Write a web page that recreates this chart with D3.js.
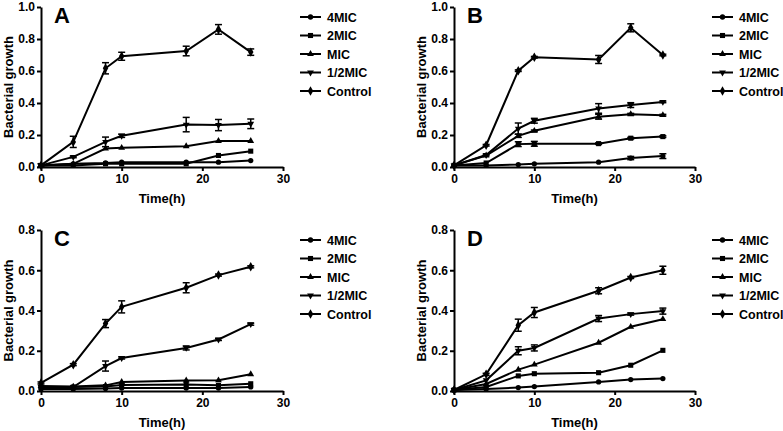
<!DOCTYPE html>
<html><head><meta charset="utf-8">
<script src="https://cdn.jsdelivr.net/npm/d3@7/dist/d3.min.js"></script>
<style>body{margin:0;background:#fff}svg{display:block}text{font-family:"Liberation Sans",Arial,sans-serif;fill:#000}</style>
</head><body>
<svg id="c" width="783" height="431"></svg>
<script>
const time = [0, 4, 8, 10, 18, 22, 26];
const seriesNames = ["4MIC", "2MIC", "MIC", "1/2MIC", "Control"];
const panelLabels = ["A", "B", "C", "D"];
const xTicks = [0, 10, 20, 30];
const yTicksTop = [0, 0.2, 0.4, 0.6, 0.8, 1.0];
const yTicksBottom = [0, 0.2, 0.4, 0.6, 0.8];

// Panel A
const A_4MIC    = [0.01, 0.02, 0.025, 0.03, 0.03, 0.03, 0.04];
const A_2MIC    = [0.01, 0.01, 0.02, 0.02, 0.02, 0.072, 0.099];
const A_MIC     = [0.01, 0.02, 0.115, 0.12, 0.13, 0.163, 0.163];
const A_halfMIC = [0.01, 0.063, 0.157, 0.195, 0.265, 0.262, 0.27];
const A_Control = [0.01, 0.157, 0.617, 0.692, 0.725, 0.86, 0.718];
const A_err_halfMIC = [0, 0.005, 0.03, 0.01, 0.045, 0.035, 0.03];
const A_err_Control = [0.01, 0.035, 0.035, 0.025, 0.03, 0.03, 0.02];

// Panel B
const B_4MIC    = [0.01, 0.01, 0.015, 0.02, 0.03, 0.056, 0.068];
const B_2MIC    = [0.01, 0.025, 0.143, 0.145, 0.146, 0.18, 0.19];
const B_MIC     = [0.01, 0.072, 0.195, 0.226, 0.314, 0.33, 0.324];
const B_halfMIC = [0.01, 0.075, 0.24, 0.289, 0.366, 0.387, 0.407];
const B_Control = [0.01, 0.136, 0.602, 0.686, 0.672, 0.87, 0.70];
const B_err_4MIC    = [0, 0, 0, 0, 0, 0.01, 0.015];
const B_err_2MIC    = [0, 0, 0.015, 0.015, 0.005, 0.005, 0.005];
const B_err_MIC     = [0, 0, 0.01, 0.005, 0.015, 0.005, 0.005];
const B_err_halfMIC = [0, 0.005, 0.035, 0.015, 0.03, 0.015, 0.005];
const B_err_Control = [0, 0.005, 0.005, 0.005, 0.025, 0.025, 0.005];

// Panel C
const C_4MIC    = [0.01, 0.01, 0.012, 0.015, 0.015, 0.015, 0.02];
const C_2MIC    = [0.02, 0.02, 0.022, 0.03, 0.032, 0.028, 0.036];
const C_MIC     = [0.025, 0.022, 0.028, 0.045, 0.052, 0.053, 0.083];
const C_halfMIC = [0.02, 0.02, 0.124, 0.164, 0.214, 0.256, 0.332];
const C_Control = [0.04, 0.131, 0.335, 0.418, 0.513, 0.576, 0.617];
const C_err_halfMIC = [0, 0, 0.025, 0.005, 0.01, 0.005, 0.005];
const C_err_Control = [0.005, 0.005, 0.02, 0.03, 0.025, 0.005, 0.005];

// Panel D
const D_4MIC    = [0.005, 0.01, 0.017, 0.022, 0.045, 0.057, 0.062];
const D_2MIC    = [0.005, 0.02, 0.075, 0.086, 0.091, 0.128, 0.202];
const D_MIC     = [0.005, 0.035, 0.106, 0.131, 0.24, 0.319, 0.357];
const D_halfMIC = [0.005, 0.053, 0.2, 0.214, 0.36, 0.382, 0.397];
const D_Control = [0.005, 0.083, 0.327, 0.39, 0.498, 0.564, 0.60];
const D_err_MIC     = [0, 0, 0, 0, 0, 0.01, 0.005];
const D_err_halfMIC = [0, 0, 0.02, 0.015, 0.015, 0.005, 0.015];
const D_err_Control = [0, 0.005, 0.03, 0.025, 0.015, 0.005, 0.02];

const zero = time.map(() => 0);
const panels = [
  {label: "A", yMax: 1.0, yTicks: yTicksTop, left: 41, right: 283, top: 7, bottom: 167,
   series: [A_4MIC, A_2MIC, A_MIC, A_halfMIC, A_Control],
   errs: [zero, zero, zero, A_err_halfMIC, A_err_Control]},
  {label: "B", yMax: 1.0, yTicks: yTicksTop, left: 454, right: 695, top: 7, bottom: 167,
   series: [B_4MIC, B_2MIC, B_MIC, B_halfMIC, B_Control],
   errs: [B_err_4MIC, B_err_2MIC, B_err_MIC, B_err_halfMIC, B_err_Control]},
  {label: "C", yMax: 0.8, yTicks: yTicksBottom, left: 41, right: 283, top: 230, bottom: 391,
   series: [C_4MIC, C_2MIC, C_MIC, C_halfMIC, C_Control],
   errs: [zero, zero, zero, C_err_halfMIC, C_err_Control]},
  {label: "D", yMax: 0.8, yTicks: yTicksBottom, left: 454, right: 695, top: 230, bottom: 391,
   series: [D_4MIC, D_2MIC, D_MIC, D_halfMIC, D_Control],
   errs: [zero, zero, zero, D_err_halfMIC, D_err_Control]}
];

const symbols = [
  d3.symbol().type(d3.symbolCircle).size(22),
  d3.symbol().type(d3.symbolSquare).size(26),
  d3.symbol().type(d3.symbolTriangle).size(20),
  d3.symbol().type({draw(ctx, size){const s=Math.sqrt(size/(Math.sqrt(3)/4)); const h=s*Math.sqrt(3)/2; ctx.moveTo(-s/2,-h/3); ctx.lineTo(s/2,-h/3); ctx.lineTo(0,2*h/3); ctx.closePath();}}).size(20),
  d3.symbol().type(d3.symbolDiamond).size(26)
];

const svg = d3.select("#c");

panels.forEach(p => {
  const x = d3.scaleLinear().domain([0, 30]).range([p.left, p.right]);
  const y = d3.scaleLinear().domain([0, p.yMax]).range([p.bottom, p.top]);
  const g = svg.append("g");

  const xa = g.append("g").attr("transform", `translate(0,${p.bottom})`)
    .call(d3.axisBottom(x).tickValues(xTicks).tickSize(4).tickSizeOuter(0).tickPadding(3).tickFormat(d3.format("d")));
  const ya = g.append("g").attr("transform", `translate(${p.left},0)`)
    .call(d3.axisLeft(y).tickValues(p.yTicks).tickSize(4).tickSizeOuter(0).tickPadding(2).tickFormat(d3.format(".1f")));
  [xa, ya].forEach(a => {
    a.select(".domain").attr("stroke", "#000").attr("stroke-width", 2);
    a.selectAll(".tick line").attr("stroke", "#000").attr("stroke-width", 2);
    a.selectAll("text").attr("font-size", 12).attr("font-weight", "bold")
      .attr("font-family", '"Liberation Sans",Arial,sans-serif').attr("fill", "#000");
  });

  g.append("text").attr("x", (p.left + p.right) / 2).attr("y", p.bottom + 36)
    .attr("text-anchor", "middle").attr("font-size", 13).attr("font-weight", "bold").text("Time(h)");
  g.append("text").attr("transform", `translate(${p.left - 28},${(p.top + p.bottom) / 2}) rotate(-90)`)
    .attr("text-anchor", "middle").attr("font-size", 13).attr("font-weight", "bold").text("Bacterial growth");

  g.append("text").attr("x", p.left + 13).attr("y", p.top + 16)
    .attr("font-size", 22).attr("font-weight", "bold").text(p.label);

  const line = d3.line().x((d, i) => x(time[i])).y(d => y(d));

  p.series.forEach((s, si) => {
    g.append("path").attr("d", line(s)).attr("fill", "none").attr("stroke", "#000").attr("stroke-width", 2);
    const errs = p.errs[si];
    s.forEach((v, i) => {
      const e = errs[i];
      if (e > 0.004) {
        const cx = x(time[i]);
        g.append("line").attr("x1", cx).attr("x2", cx).attr("y1", y(v - e)).attr("y2", y(v + e))
          .attr("stroke", "#000").attr("stroke-width", 1.5);
        [v - e, v + e].forEach(ev => {
          g.append("line").attr("x1", cx - 3.5).attr("x2", cx + 3.5).attr("y1", y(ev)).attr("y2", y(ev))
            .attr("stroke", "#000").attr("stroke-width", 1.5);
        });
      }
      g.append("path").attr("d", symbols[si]()).attr("transform", `translate(${x(time[i])},${y(v)})`).attr("fill", "#000");
    });
  });

  const lx = p.right + 17;
  seriesNames.forEach((name, si) => {
    const ly = p.top + 10 + si * 18.5;
    g.append("line").attr("x1", lx).attr("x2", lx + 21).attr("y1", ly).attr("y2", ly)
      .attr("stroke", "#000").attr("stroke-width", 2);
    g.append("path").attr("d", symbols[si]()).attr("transform", `translate(${lx + 10.5},${ly})`).attr("fill", "#000");
    g.append("text").attr("x", lx + 27).attr("y", ly + 4.5).attr("font-size", 12.5).attr("font-weight", "bold").text(name);
  });
});
</script>
</body></html>
